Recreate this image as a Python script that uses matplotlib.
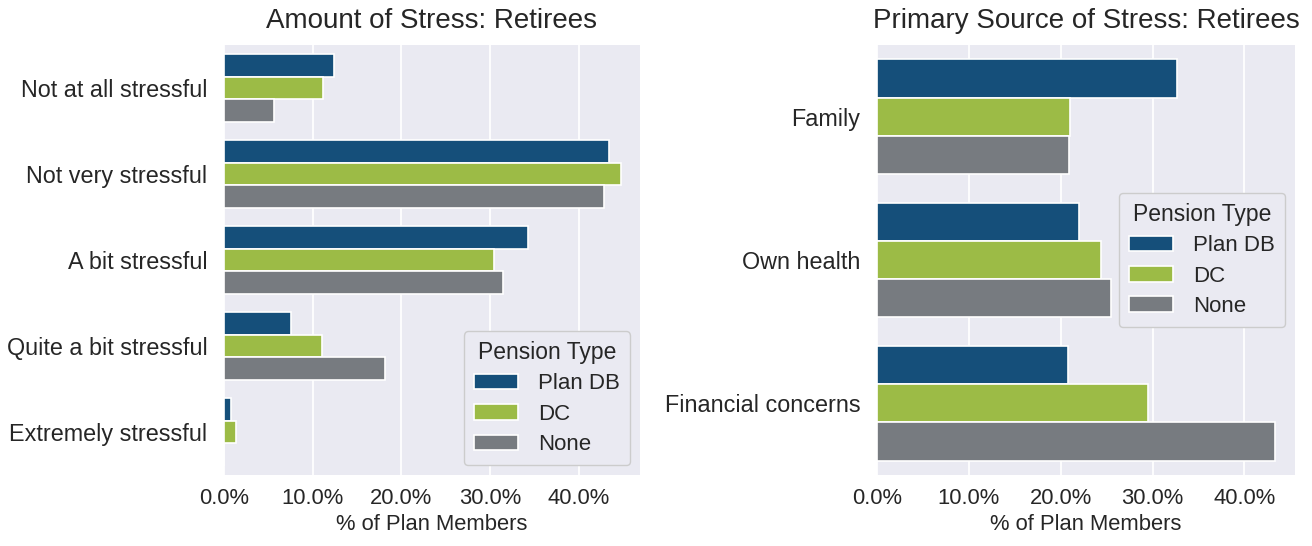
import matplotlib
matplotlib.use("Agg")
import matplotlib.pyplot as plt
import numpy as np
import seaborn as sns
from matplotlib.ticker import PercentFormatter

# data (percent of plan members)
pension_types = ["Plan DB", "DC", "None"]
colors = ["#154f7a", "#9cbb46", "#777b80"]

stress_levels = [
    "Not at all stressful",
    "Not very stressful",
    "A bit stressful",
    "Quite a bit stressful",
    "Extremely stressful",
]
stress_db = [12.4, 43.4, 34.3, 7.5, 0.8]
stress_dc = [11.2, 44.8, 30.4, 11.1, 1.4]
stress_none = [5.6, 42.8, 31.5, 18.1, 0.0]

sources = ["Family", "Own health", "Financial concerns"]
source_db = [32.7, 22.0, 20.8]
source_dc = [21.0, 24.4, 29.5]
source_none = [20.9, 25.5, 43.3]

sns.set_theme(style="darkgrid")
plt.rcParams["font.family"] = ["Liberation Sans", "DejaVu Sans"]
plt.rcParams["text.color"] = "#262626"


def grouped_barh(ax, labels, series, title, xmax):
    n = len(series)
    width = 0.8 / n
    y = np.arange(len(labels))
    for i, (vals, name, col) in enumerate(zip(series, pension_types, colors)):
        offset = -0.4 + width * (i + 0.5)
        ax.barh(y + offset, vals, height=width, color=col, label=name,
                edgecolor="white", linewidth=1.2)
    ax.set_yticks(y)
    ax.set_yticklabels(labels)
    ax.set_ylim(len(labels) - 0.5, -0.5)
    ax.set_xlim(0, xmax)
    ax.set_xticks([0, 10, 20, 30, 40])
    ax.xaxis.set_major_formatter(PercentFormatter(100, decimals=1))
    ax.grid(axis="y", visible=False)
    ax.grid(axis="x", color="white", linewidth=1.3)
    ax.tick_params(axis="y", length=0, pad=12, labelsize=16.8)
    ax.tick_params(axis="x", length=0, pad=9, labelsize=15.8)
    ax.set_xlabel("% of Plan Members", fontsize=15.8, labelpad=4)
    ax.set_title(title, fontsize=20, pad=12)
    for s in ax.spines.values():
        s.set_visible(False)


fig = plt.figure(figsize=(13.12, 5.46), dpi=100)
ax1 = fig.add_axes([224 / 1312, 1 - 475 / 546, 416 / 1312, 430 / 546])
ax2 = fig.add_axes([877 / 1312, 1 - 475 / 546, 418 / 1312, 430 / 546])

grouped_barh(ax1, stress_levels, [stress_db, stress_dc, stress_none],
             "Amount of Stress: Retirees", 46.9)
grouped_barh(ax2, sources, [source_db, source_dc, source_none],
             "Primary Source of Stress: Retirees", 45.5)

leg_kw = dict(title="Pension Type", fontsize=16, title_fontsize=16.5,
              handlelength=2.0, handleheight=0.7, handletextpad=0.9,
              labelspacing=0.42, borderpad=0.45, borderaxespad=0,
              frameon=True, facecolor="#eaeaf2", edgecolor="#cccccc",
              framealpha=1)
ax1.legend(loc="lower right", bbox_to_anchor=(0.976, 0.023), **leg_kw)
ax2.legend(loc="center right", bbox_to_anchor=(0.976, 0.5), **leg_kw)

fig.savefig("out.png", dpi=100)
